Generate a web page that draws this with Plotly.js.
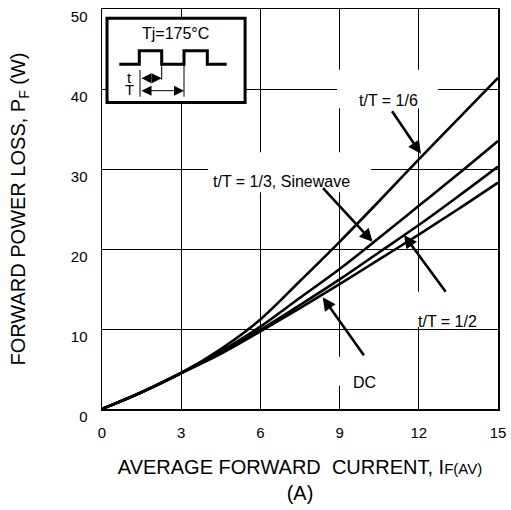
<!DOCTYPE html>
<html><head><meta charset="utf-8">
<script src="https://cdn.plot.ly/plotly-3.0.1.min.js"></script>
<style>html,body{margin:0;padding:0;background:#fff}</style>
</head><body><div id="chart" style="width:511px;height:510px"></div>
<script>
// ---- data ----
const currentA = [0, 1.5, 3, 4.5, 6, 7.5, 9, 10.5, 12, 13.5, 15];
const lossT16  = [0, 2.1, 4.5, 7.5, 11.2, 16.0, 20.9, 26.0, 31.2, 36.3, 41.4];
const lossT13  = [0, 2.1, 4.5, 7.2, 10.3, 13.9, 17.5, 21.4, 25.4, 29.4, 33.5];
const lossT12  = [0, 2.1, 4.5, 7.0, 9.9, 13.0, 16.2, 19.6, 23.0, 26.6, 30.3];
const lossDC   = [0, 2.1, 4.5, 6.9, 9.7, 12.6, 15.6, 18.7, 21.8, 25.0, 28.3];
const xTickVals = [0, 3, 6, 9, 12, 15];
const yTickVals = [0, 10, 20, 30, 40, 50];
const seriesLabels = ['t/T = 1/6', 't/T = 1/3, Sinewave', 't/T = 1/2', 'DC'];
const insetLabel = 'Tj=175\u00B0C';

const FONT = 'Liberation Sans, Arial, Helvetica, sans-serif';
const series = [lossT16, lossT13, lossT12, lossDC];
const traces = series.map((ys, i) => ({
  x: currentA, y: ys, type: 'scatter', mode: 'lines', name: seriesLabels[i],
  line: {color: '#000', width: 2.6, shape: 'spline', smoothing: 1},
  hoverinfo: 'skip'
}));

function whiteBox(x0, x1, y0, y1) {
  return {type: 'rect', xref: 'x', yref: 'y', x0, x1, y0, y1,
          fillcolor: '#fff', line: {width: 0}};
}
function thin(x0, y0, x1, y1) {
  return {type: 'line', xref: 'x', yref: 'y', x0, y0, x1, y1,
          line: {color: '#000', width: 1}};
}
const shapes = [
  whiteBox(8.90, 12.73, 37.6, 42.4),
  whiteBox(4.02, 10.19, 27.1, 32.1),
  whiteBox(11.48, 14.70, 10.25, 14.66),
  whiteBox(8.83, 11.29, 2.9, 6.54),
  // inset box
  {type: 'rect', xref: 'x', yref: 'y', x0: 0.19, x1: 5.42, y0: 38.3, y1: 48.84,
   fillcolor: '#fff', line: {color: '#000', width: 3}},
  // pulse waveform
  {type: 'path', xref: 'x', yref: 'y',
   path: 'M0.655,43.09 L1.413,43.09 L1.413,44.79 L2.261,44.79 L2.261,43.09 L3.106,43.09 L3.106,44.79 L3.989,44.79 L3.989,43.09 L4.723,43.09',
   line: {color: '#000', width: 3}},
  thin(1.439, 42.38, 1.439, 39.04),
  thin(2.261, 43.09, 2.261, 41.16),
  thin(3.106, 43.09, 3.106, 39.04)
];

function txt(x, y, text, size) {
  return {x, y, xref: 'x', yref: 'y', text, showarrow: false,
          xanchor: 'center', yanchor: 'middle',
          font: {family: FONT, size: size || 16, color: '#000'}};
}
function arrow(tx, ty, hx, hy) {
  return {x: hx, y: hy, ax: tx, ay: ty, xref: 'x', yref: 'y', axref: 'x', ayref: 'y',
          text: '', showarrow: true, arrowhead: 2, arrowsize: 1, arrowwidth: 2.6,
          arrowcolor: '#000', standoff: 0, startstandoff: 0};
}
function dbl(x0, x1, y) {
  return {x: x1, y: y, ax: x0, ay: y, xref: 'x', yref: 'y', axref: 'x', ayref: 'y',
          text: '', showarrow: true, arrowside: 'end+start',
          arrowhead: 2, startarrowhead: 2, arrowsize: 2, startarrowsize: 2,
          arrowwidth: 1, arrowcolor: '#000', standoff: 0, startstandoff: 0};
}
const annotations = [
  txt(10.84, 38.6, seriesLabels[0]),
  txt(6.80, 28.4, seriesLabels[1]),
  txt(13.09, 10.9, seriesLabels[2]),
  txt(9.95, 3.3, seriesLabels[3]),
  arrow(10.95, 37.4, 12.08, 31.9),
  arrow(8.32, 27.8, 10.25, 20.9),
  arrow(13.06, 14.46, 11.44, 21.75),
  arrow(9.96, 6.54, 8.36, 13.96),
  txt(2.765, 46.96, insetLabel, 16),
  txt(1.06, 41.46, 't', 15),
  txt(1.06, 39.96, 'T', 15),
  dbl(1.439, 2.261, 41.34),
  dbl(1.439, 3.106, 39.79)
];

const layout = {
  width: 511, height: 510,
  margin: {l: 102, r: 13, t: 9, b: 101, pad: 0},
  paper_bgcolor: '#fff', plot_bgcolor: '#fff',
  showlegend: false,
  font: {family: FONT, color: '#000'},
  xaxis: {
    range: [0, 15], tickvals: xTickVals, ticktext: xTickVals.map(String),
    showgrid: true, gridcolor: '#000', gridwidth: 1,
    showline: true, mirror: true, linecolor: '#000', linewidth: 1.5,
    zeroline: false, ticks: '', ticklabelstandoff: 9,
    tickfont: {family: FONT, size: 15, color: '#000'},
    title: {text: 'AVERAGE FORWARD\u00A0 CURRENT, I<span style="font-size:15px">F(AV)</span><br>(A)',
            font: {family: FONT, size: 20, color: '#000'}, standoff: 20},
    fixedrange: true
  },
  yaxis: {
    range: [0, 50], tickvals: yTickVals, ticktext: yTickVals.map(String),
    showgrid: true, gridcolor: '#000', gridwidth: 1,
    showline: true, mirror: true, linecolor: '#000', linewidth: 1.5,
    zeroline: false, ticks: '', ticklabelstandoff: 10, ticklabelshift: 8,
    tickfont: {family: FONT, size: 15, color: '#000'},
    title: {text: 'FORWARD POWER LOSS, P<sub>F</sub> (W)',
            font: {family: FONT, size: 20, color: '#000'}, standoff: 40},
    fixedrange: true
  },
  shapes, annotations
};
Plotly.newPlot('chart', traces, layout, {displayModeBar: false, staticPlot: true});
</script></body></html>
